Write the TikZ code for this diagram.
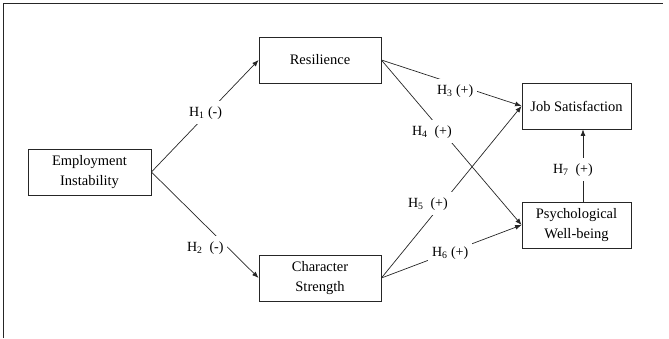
\documentclass[tikz,border=0pt]{standalone}
\usepackage{fontspec}
\setmainfont{Liberation Serif}
\usetikzlibrary{arrows.meta}
\begin{document}
\begin{tikzpicture}[x=1pt,y=-1pt,
  box/.style={draw=black!85,line width=0.8pt,minimum height=46pt,align=center,inner sep=2pt,
    font=\fontsize{14.5}{19.5}\selectfont},
  conn/.style={draw=black!85,line width=0.7pt,-{Latex[length=6.5pt,width=5pt]}},
  hyp/.style={fill=white,inner xsep=4pt,inner ysep=5pt,anchor=text,font=\fontsize{14}{16}\selectfont},
  frame/.style={draw=black!85,line width=0.8pt}]
\useasboundingbox (0,0) rectangle (669,338);
\coordinate (fa) at (3,338);
\coordinate (fb) at (3,3);
\coordinate (fc) at (663,3);
\draw[frame] (fa) -- (fb) -- (fc);

\node[box,minimum width=123pt] (ei) at (89.5,172) {Employment\\Instability};
\node[box,minimum width=122pt] (res) at (320,60) {Resilience};
\node[box,minimum width=122pt] (cs) at (320,278) {Character\\Strength};
\node[box,minimum width=109pt] (js) at (576.5,106) {Job Satisfaction};
\node[box,minimum width=109pt] (pwb) at (576.5,225) {Psychological\\Well-being};

\draw[conn] (ei.east) -- (res.west);
\draw[conn] (ei.east) -- (cs.west);
\draw[conn] (res.east) -- (js.west);
\draw[conn] (res.east) -- (pwb.west);
\draw[conn] (cs.east) -- (js.west);
\draw[conn] (cs.east) -- (pwb.west);
\draw[conn] ([xshift=6.5pt]pwb.north) -- ([xshift=6.5pt]js.south);

\node[hyp] (h1) at (189,116) {H\textsubscript{1} (-)};
\node[hyp] (h2) at (187,251) {H\textsubscript{2}\ \ (-)};
\node[hyp] (h3) at (437,94) {H\textsubscript{3} (+)};
\node[hyp] (h4) at (412,135) {H\textsubscript{4}\ \ (+)};
\node[hyp] (h5) at (408,207) {H\textsubscript{5}\ \ (+)};
\node[hyp] (h6) at (432,256) {H\textsubscript{6}\ (+)};
\node[hyp] (h7) at (553,173) {H\textsubscript{7}\ \ (+)};
\end{tikzpicture}
\end{document}
